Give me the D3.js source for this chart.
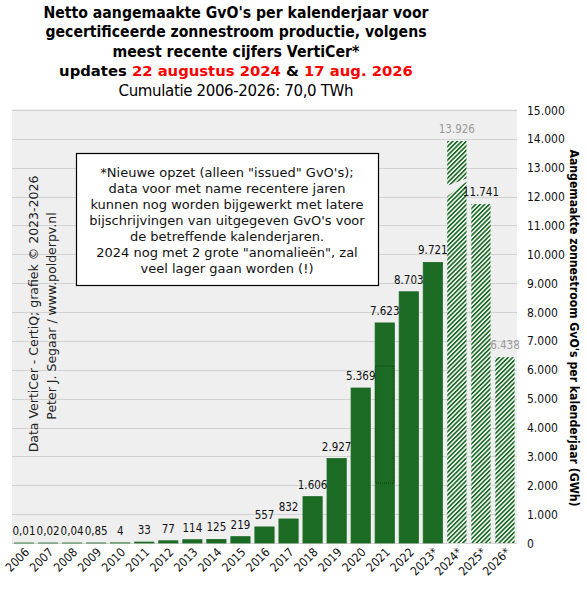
<!DOCTYPE html>
<html>
<head>
<meta charset="utf-8">
<script src="https://cdn.jsdelivr.net/npm/d3@7"></script>
<style>
	body { margin: 0; background: #fff; }
	text { font-family: "DejaVu Sans", Verdana, sans-serif; }
	.cond { font-family: "DejaVu Sans Condensed", "DejaVu Sans", sans-serif; }
</style>
</head>
<body>
<svg id="chart" width="587" height="590"></svg>
<script>
// categories / values (GWh)
var years = ["2006", "2007", "2008", "2009", "2010", "2011", "2012", "2013", "2014", "2015",
	"2016", "2017", "2018", "2019", "2020", "2021", "2022", "2023*", "2024*", "2025*", "2026*"]
var values = [0.01, 0.02, 0.04, 0.85, 4, 33, 77, 114, 125, 219,
	557, 832, 1606, 2927, 5369, 7623, 8703, 9721, 13926, 11741, 6438]
// which years are drawn hatched (provisional)
var hatched = ["2024*", "2025*", "2026*"]
// which value labels are greyed out
var greyLabels = ["2024*", "2026*"]
var yTicks = [0, 1000, 2000, 3000, 4000, 5000, 6000, 7000, 8000, 9000, 10000,
	11000, 12000, 13000, 14000, 15000]

var titleLines = [
	"Netto aangemaakte GvO's per kalenderjaar voor",
	"gecertificeerde zonnestroom productie, volgens",
	"meest recente cijfers VertiCer*"
]
var noteLines = [
	"*Nieuwe opzet (alleen \"issued\" GvO's);",
	"data voor met name recentere jaren",
	"kunnen nog worden bijgewerkt met latere",
	"bijschrijvingen van uitgegeven GvO's voor",
	"de betreffende kalenderjaren.",
	"2024 nog met 2 grote \"anomalieën\", zal",
	"veel lager gaan worden (!)"
]

var svg = d3.select("#chart")
var green = "#1c6b25"

var nl = d3.formatLocale({decimal: ",", thousands: ".", grouping: [3], currency: ["€", ""]})
function fmt(v) {
	return v < 1 ? nl.format(",.2f")(v) : nl.format(",.0f")(v)
}

var plot = {l: 12, r: 517, t: 109, b: 543}

var x = d3.scaleBand()
	.domain(years)
	.range([plot.l, plot.r])
	.paddingInner(0.2)
	.paddingOuter(0.1)

var y = d3.scaleLinear()
	.domain([0, 15000])
	.range([plot.b, 110])

// hatch pattern
var defs = svg.append("defs")
var pat = defs.append("pattern")
	.attr("id", "hatch")
	.attr("patternUnits", "userSpaceOnUse")
	.attr("width", 3.2)
	.attr("height", 3.2)
	.attr("patternTransform", "rotate(45)")
pat.append("rect").attr("width", 3.2).attr("height", 3.2).attr("fill", "#fff")
pat.append("rect").attr("width", 1.7).attr("height", 3.2).attr("fill", green)

// plot background
svg.append("rect")
	.attr("x", plot.l)
	.attr("y", plot.t)
	.attr("width", plot.r - plot.l)
	.attr("height", plot.b - plot.t)
	.attr("fill", "#efefef")

// gridlines
svg.append("g")
	.selectAll("line")
	.data(yTicks)
	.join("line")
	.attr("x1", plot.l)
	.attr("x2", plot.r)
	.attr("y1", function(d) { return Math.round(y(d)) + 0.5 })
	.attr("y2", function(d) { return Math.round(y(d)) + 0.5 })
	.attr("stroke", "#d2d2d2")
	.attr("stroke-width", 1)

// bars
svg.append("g")
	.selectAll("rect")
	.data(values)
	.join("rect")
	.attr("x", function(d, i) { return x(years[i]) })
	.attr("width", x.bandwidth())
	.attr("y", function(d) { return y(d) })
	.attr("height", function(d) { return y(0) - y(d) })
	.attr("fill", function(d, i) { return hatched.indexOf(years[i]) >= 0 ? "url(#hatch)" : green })
	.attr("stroke", function(d, i) { return hatched.indexOf(years[i]) >= 0 ? "none" : green })
	.attr("stroke-width", 0.8)

// break in the 2024* bar
var bx0 = x("2024*") - 1, bx1 = x("2024*") + x.bandwidth() + 1
svg.append("polygon")
	.attr("points", [[bx0, y(12366)], [bx1, y(12643)], [bx1, y(12539)], [bx0, y(11985)]].join(" "))
	.attr("fill", "#efefef")

// dotted focus rectangle seen in 2021 bar
svg.append("rect")
	.attr("x", x("2021") + 0.5)
	.attr("width", x.bandwidth() - 1)
	.attr("y", y(6130))
	.attr("height", y(2080) - y(6130))
	.attr("fill", "none")
	.attr("stroke", "#0b3310")
	.attr("stroke-width", 0.8)
	.attr("stroke-dasharray", "1,1")

// value labels
svg.append("g")
	.selectAll("text")
	.data(values)
	.join("text")
	.attr("class", "cond")
	.attr("x", function(d, i) { return x(years[i]) + x.bandwidth() / 2 })
	.attr("y", function(d) { return y(d) - 8 })
	.attr("text-anchor", "middle")
	.style("font-size", "11.5px")
	.attr("fill", function(d, i) { return greyLabels.indexOf(years[i]) >= 0 ? "#999" : "#111" })
	.text(function(d) { return fmt(d) })

// x labels
svg.append("g")
	.selectAll("text")
	.data(years)
	.join("text")
	.attr("class", "cond")
	.attr("text-anchor", "end")
	.attr("transform", function(d) {
		return "translate(" + (x(d) + x.bandwidth() / 2 + 6) + "," + 553 + ") rotate(-45)"
	})
	.style("font-size", "12px")
	.attr("fill", "#111")
	.text(function(d) { return d })

// right axis labels
svg.append("g")
	.selectAll("text")
	.data(yTicks)
	.join("text")
	.attr("class", "cond")
	.attr("x", 527)
	.attr("y", function(d) { return y(d) + 4.5 })
	.style("font-size", "12px")
	.attr("fill", "#111")
	.text(function(d) { return nl.format(",.0f")(d) })

// right axis title
svg.append("text")
	.attr("class", "cond")
	.attr("transform", "translate(570," + 328 + ") rotate(90)")
	.attr("text-anchor", "middle")
	.attr("textLength", 357)
	.attr("lengthAdjust", "spacingAndGlyphs")
	.style("font-weight", "bold")
	.style("font-size", "12px")
	.text("Aangemaakte zonnestroom GvO's per kalenderjaar (GWh)")

// left credits
svg.append("text")
	.attr("transform", "translate(38,314) rotate(-90)")
	.attr("text-anchor", "middle")
	.style("font-size", "12.5px")
	.attr("fill", "#222")
	.text("Data VertiCer - CertiQ; grafiek © 2023-2026")
svg.append("text")
	.attr("transform", "translate(56,316) rotate(-90)")
	.attr("text-anchor", "middle")
	.style("font-size", "12.5px")
	.attr("fill", "#222")
	.text("Peter J. Segaar / www.polderpv.nl")

// title
var titleWidths = [385, 381, 247]
var title = svg.append("g")
	.attr("class", "cond")
	.style("font-weight", "bold")
	.style("font-size", "16px")
title.selectAll("text.tl")
	.data(titleLines)
	.join("text")
	.attr("class", "tl")
	.attr("x", 236)
	.attr("y", function(d, i) { return 18 + i * 19.3 })
	.attr("text-anchor", "middle")
	.attr("textLength", function(d, i) { return titleWidths[i] })
	.attr("lengthAdjust", "spacingAndGlyphs")
	.text(function(d) { return d })
var upd = title.append("text")
	.attr("x", 236)
	.attr("y", 76)
	.attr("text-anchor", "middle")
	.style("font-size", "14.8px")
upd.append("tspan").text("updates ")
upd.append("tspan").attr("fill", "red").text("22 augustus 2024")
upd.append("tspan").text(" & ")
upd.append("tspan").attr("fill", "red").text("17 aug. 2026")

svg.append("text")
	.attr("x", 236)
	.attr("y", 96)
	.attr("text-anchor", "middle")
	.style("font-size", "15px")
	.attr("textLength", 235)
	.text("Cumulatie 2006-2026: 70,0 TWh")

// note box
var box = svg.append("g")
box.append("rect")
	.attr("x", 76.5)
	.attr("y", 153.5)
	.attr("width", 302)
	.attr("height", 132)
	.attr("fill", "#fff")
	.attr("stroke", "#000")
	.attr("stroke-width", 1.2)
box.selectAll("text")
	.data(noteLines)
	.join("text")
	.attr("x", 227)
	.attr("y", function(d, i) { return 177 + i * 16 })
	.attr("text-anchor", "middle")
	.style("font-size", "13px")
	.attr("fill", "#111")
	.text(function(d) { return d })
</script>
</body>
</html>
